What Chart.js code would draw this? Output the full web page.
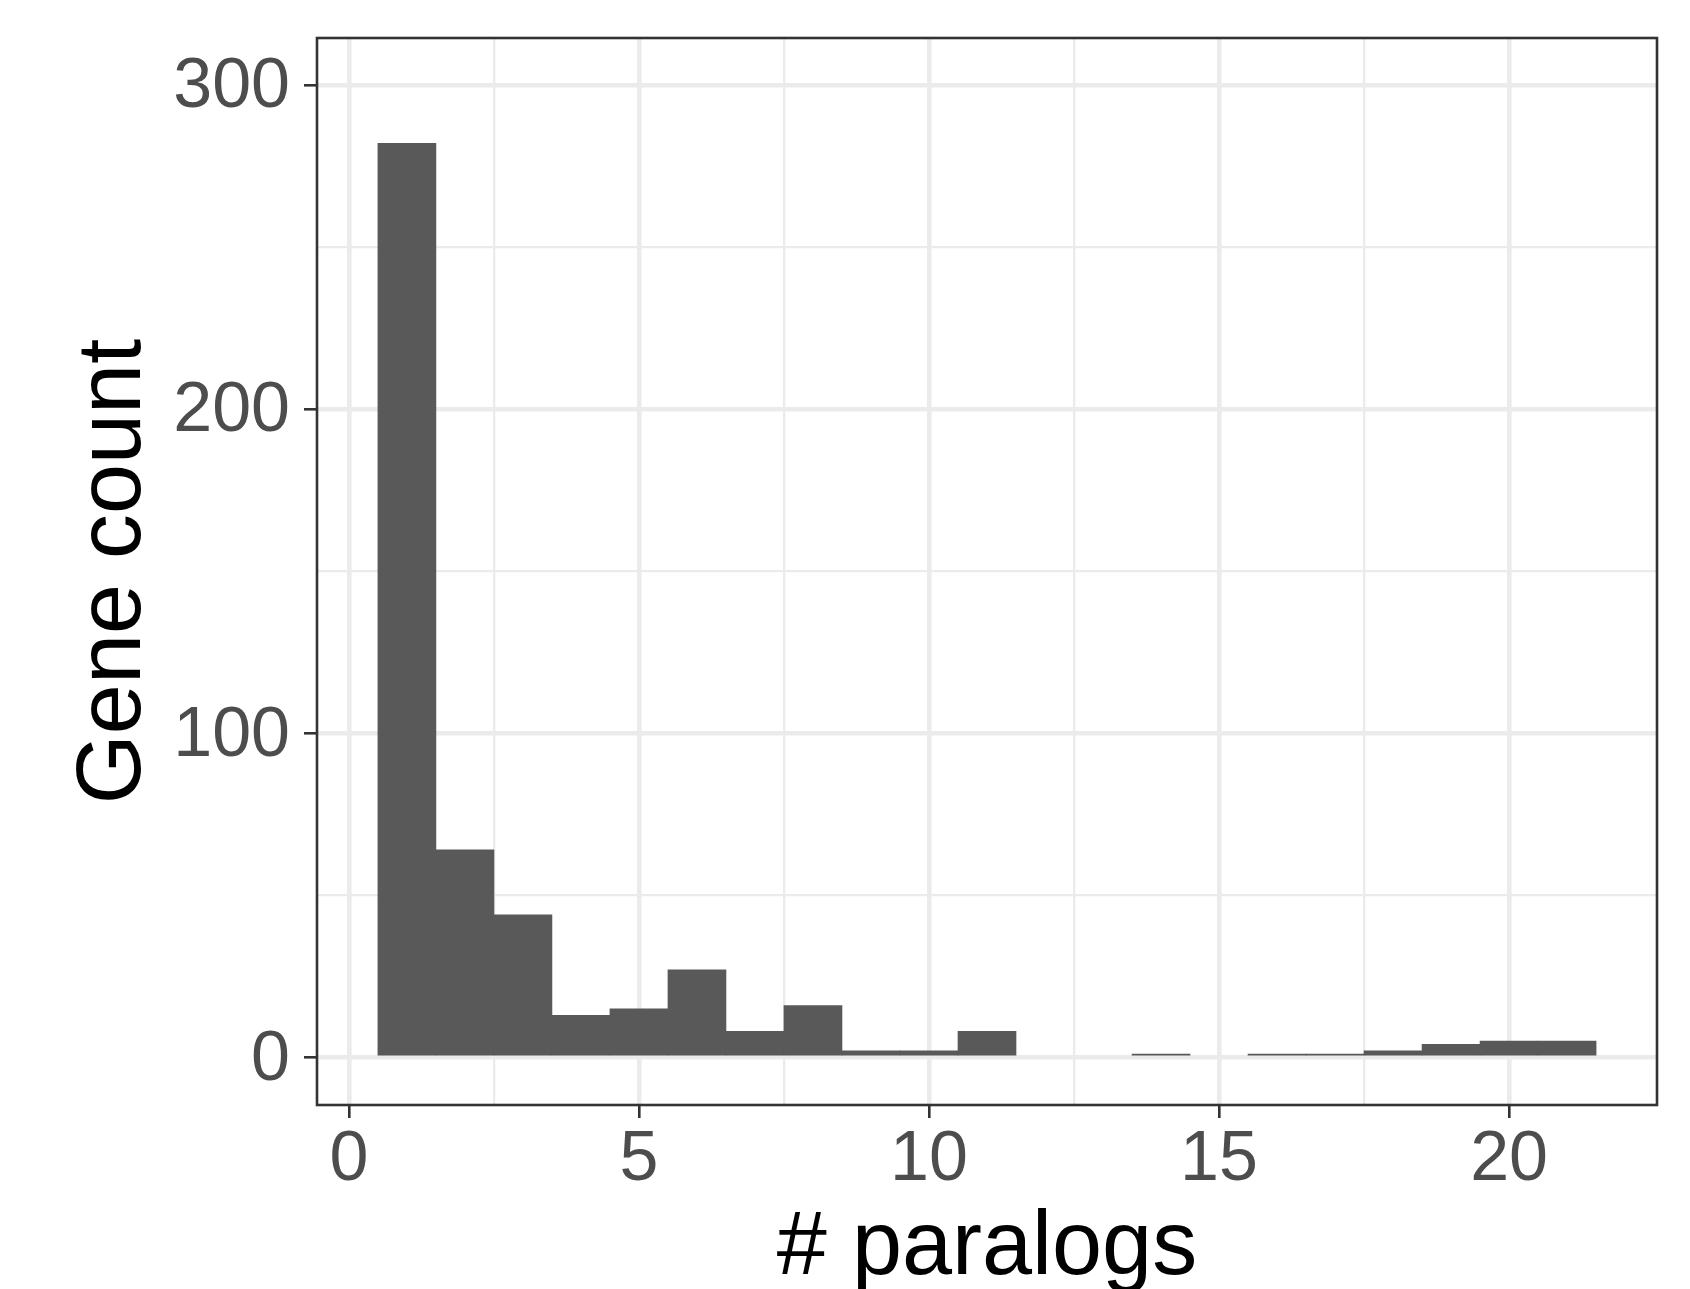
<!DOCTYPE html>
<html>
<head>
<meta charset="utf-8">
<script src="https://cdn.jsdelivr.net/npm/chart.js@4/dist/chart.umd.min.js"></script>
<style>
  html, body { margin: 0; padding: 0; background: #ffffff; }
  canvas { display: block; }
</style>
</head>
<body>
<canvas id="c" width="1690" height="1289"></canvas>
<script>
// ---- data ----
const paralogs = [1, 2, 3, 4, 5, 6, 7, 8, 9, 10, 11, 12, 13, 14, 15, 16, 17, 18, 19, 20, 21];
const geneCounts = [282, 64, 44, 13, 15, 27, 8, 16, 2, 2, 8, 0, 0, 1, 0, 1, 1, 2, 4, 5, 5];
const xTicks = [0, 2.5, 5, 7.5, 10, 12.5, 15, 17.5, 20];
const xMajor = [0, 5, 10, 15, 20];
const yTicks = [0, 50, 100, 150, 200, 250, 300];
const yMajor = [0, 100, 200, 300];
const xTitle = '# paralogs';
const yTitle = 'Gene count';

const FONT = "'Liberation Sans', Arial, Helvetica, sans-serif";
const points = paralogs.map((p, i) => ({ x: p, y: geneCounts[i] }));

const isMajor = (list, c) => c.tick && list.includes(c.tick.value);

const panelBorder = {
  id: 'panelBorder',
  afterDraw(chart) {
    const { ctx, chartArea: a } = chart;
    ctx.save();
    ctx.strokeStyle = '#333333';
    ctx.lineWidth = 2.6;
    ctx.strokeRect(a.left, a.top, a.right - a.left, a.bottom - a.top);
    ctx.restore();
  }
};

new Chart(document.getElementById('c'), {
  type: 'bar',
  data: {
    datasets: [{
      data: points,
      backgroundColor: (c) => (c.raw && c.raw.y > 0) ? '#595959' : 'rgba(0,0,0,0)',
      borderWidth: 0,
      barPercentage: 1,
      categoryPercentage: 1
    }]
  },
  options: {
    responsive: false,
    animation: false,
    devicePixelRatio: 1,
    layout: { padding: { left: 0, right: 33, top: 38, bottom: 0 } },
    plugins: { legend: { display: false }, tooltip: { enabled: false } },
    scales: {
      x: {
        type: 'linear',
        min: -0.55,
        max: 22.55,
        offset: false,
        afterBuildTicks: (axis) => { axis.ticks = xTicks.map(v => ({ value: v })); },
        afterFit: (scale) => { scale.height = 184; scale.paddingLeft = 0; scale.paddingRight = 0; },
        border: { display: false },
        grid: {
          offset: false,
          color: '#EBEBEB',
          lineWidth: (c) => isMajor(xMajor, c) ? 4.6 : 2.3,
          drawTicks: true,
          tickLength: 13,
          tickWidth: 2.6,
          tickColor: (c) => isMajor(xMajor, c) ? '#333333' : 'rgba(0,0,0,0)'
        },
        ticks: {
          autoSkip: false,
          maxRotation: 0,
          padding: 8,
          color: '#4D4D4D',
          font: { family: FONT, size: 70, lineHeight: 1 },
          callback: (v) => xMajor.includes(v) ? String(v) : ''
        },
        title: {
          display: true,
          text: xTitle,
          color: '#000000',
          padding: 0,
          font: { family: FONT, size: 90, lineHeight: 0.88 }
        }
      },
      y: {
        type: 'linear',
        min: -14.7,
        max: 314.5,
        afterBuildTicks: (axis) => { axis.ticks = yTicks.map(v => ({ value: v })); },
        afterFit: (scale) => { scale.width = 317; scale.paddingTop = 0; scale.paddingBottom = 0; },
        border: { display: false },
        grid: {
          color: '#EBEBEB',
          lineWidth: (c) => isMajor(yMajor, c) ? 4.6 : 2.3,
          drawTicks: true,
          tickLength: 13,
          tickWidth: 2.6,
          tickColor: (c) => isMajor(yMajor, c) ? '#333333' : 'rgba(0,0,0,0)'
        },
        ticks: {
          autoSkip: false,
          padding: 14,
          labelOffset: 3,
          color: '#4D4D4D',
          font: { family: FONT, size: 70, lineHeight: 1 },
          callback: (v) => yMajor.includes(v) ? String(v) : ''
        },
        title: {
          display: true,
          text: yTitle,
          color: '#000000',
          padding: 70,
          font: { family: FONT, size: 90, lineHeight: 1 }
        }
      }
    }
  },
  plugins: [panelBorder]
});
</script>
</body>
</html>
